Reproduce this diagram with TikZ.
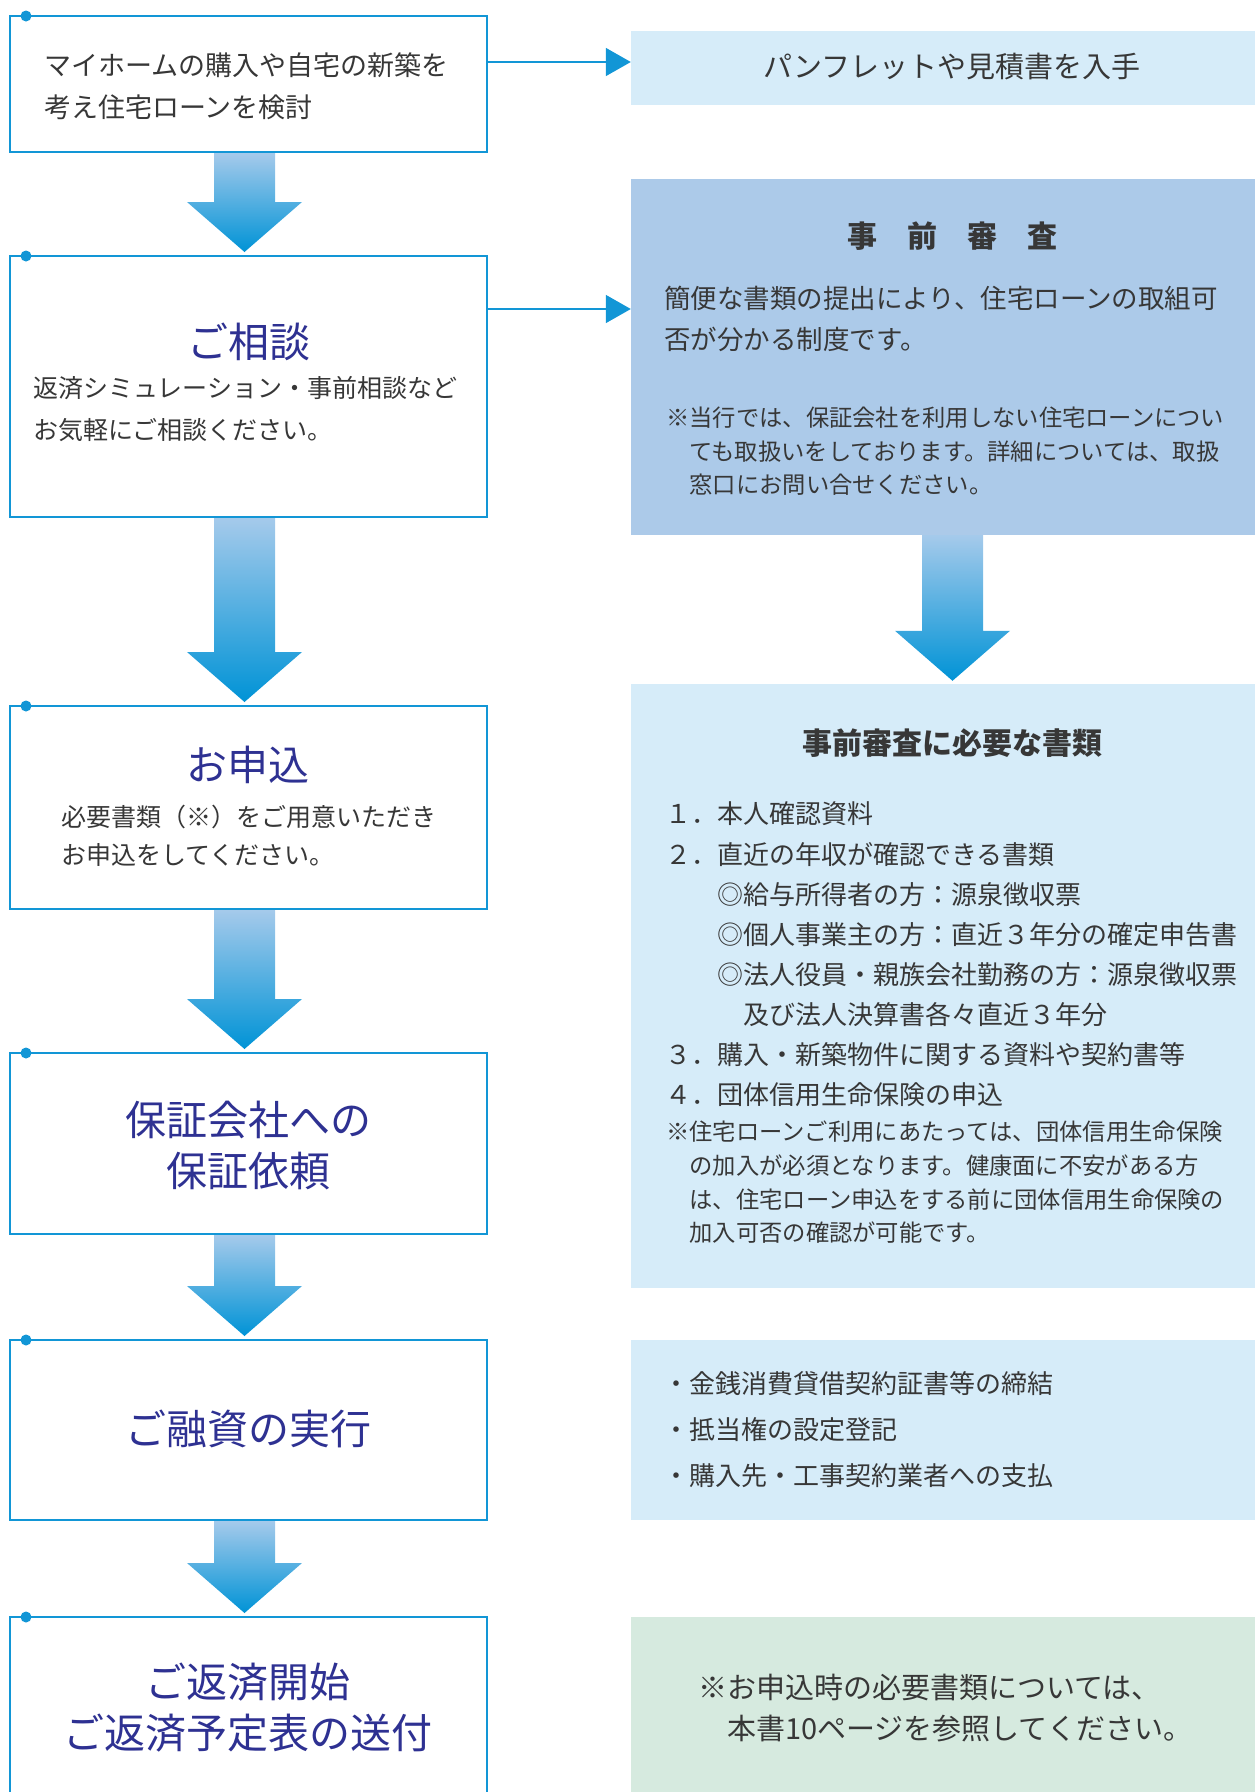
\documentclass[tikz,border=0pt]{standalone}
\usepackage{fontspec}
\setmainfont{Noto Sans CJK JP}
\usepackage{tikz}
\usetikzlibrary{arrows.meta,calc}
\definecolor{lineblue}{RGB}{18,150,214}
\definecolor{arrtop}{RGB}{165,202,235}
\definecolor{arrbot}{RGB}{0,147,214}
\definecolor{paleblue}{RGB}{214,236,249}
\definecolor{midblue}{RGB}{172,202,233}
\definecolor{palegreen}{RGB}{214,234,223}
\definecolor{txtgray}{RGB}{55,55,55}
\definecolor{indigo}{RGB}{46,49,146}
\newcommand\fsz[2]{\fontsize{#1pt}{#2pt}\selectfont}
\newcommand\bigarrow[3]{%
  \shade[top color=arrtop,bottom color=arrbot]
    let \p1=(#2.south), \p2=(#3.north) in
    (#1pt-30.5pt,\y1) -- (#1pt+30.5pt,\y1) -- (#1pt+30.5pt,\y2+53pt)
    -- (#1pt+57.5pt,\y2+53pt) -- (#1pt,\y2+3pt) -- (#1pt-57.5pt,\y2+53pt)
    -- (#1pt-30.5pt,\y2+53pt) -- cycle;}

\begin{document}
\begin{tikzpicture}[x=1pt,y=-1pt,
  lb/.style={rectangle,draw=lineblue,line width=2pt,fill=white,minimum width=477pt,inner sep=0pt},
  rb/.style={rectangle,fill=#1,minimum width=624pt,inner sep=0pt},
  txt/.style={text=txtgray,inner sep=0pt,align=left},
  ttl/.style={text=indigo,inner sep=0pt,align=center,font=\fsz{41}{51}},
  con/.style={draw=lineblue,line width=1.5pt,-{Triangle[length=25pt,width=28pt]}}]
  \useasboundingbox (0,0) rectangle (1255,1792);
  \clip (0,0) rectangle (1255,1792);

  \node[lb,minimum height=136pt] (b1) at (248.5,84) {};
  \node[lb,minimum height=261pt] (b2) at (248.5,386.5) {};
  \node[lb,minimum height=203pt] (b3) at (248.5,807.5) {};
  \node[lb,minimum height=181pt] (b4) at (248.5,1143.5) {};
  \node[lb,minimum height=180pt] (b5) at (248.5,1430) {};
  \node[lb,minimum height=213pt] (b6) at (248.5,1723.5) {};

  \node[rb=paleblue,minimum height=74pt] (r1) at (943,68) {};
  \node[rb=midblue,minimum height=356pt] (r2) at (943,357) {};
  \node[rb=paleblue,minimum height=604pt] (r3) at (943,986) {};
  \node[rb=paleblue,minimum height=180pt] (r4) at (943,1430) {};
  \node[rb=palegreen,minimum height=193pt] (r5) at (943,1713.5) {};

  \foreach \b in {b1,b2,b3,b4,b5,b6}
    \fill[lineblue] ([xshift=17pt,yshift=-1pt]\b.north west) circle[radius=5.5pt];

  \coordinate (c1) at ([yshift=-47pt]b1.north east);
  \coordinate (c2) at ([yshift=-54pt]b2.north east);
  \draw[con] (c1) -- (c1 -| r1.west);
  \draw[con] (c2) -- (c2 -| r2.west);

  \bigarrow{244.5}{b1}{b2}
  \bigarrow{244.5}{b2}{b3}
  \bigarrow{244.5}{b3}{b4}
  \bigarrow{244.5}{b4}{b5}
  \bigarrow{244.5}{b5}{b6}
  \bigarrow{952.5}{r2}{r3}

  \node[txt,anchor=west,font=\fsz{27}{42}] (t1) at (44,86) {マイホームの購入や自宅の新築を\\考え住宅ローンを検討};
  \node[ttl] (h2) at (249,342) {ご相談};
  \node[txt,anchor=west,font=\fsz{25}{42}] (t2) at (33,409) {返済シミュレーション・事前相談など\\お気軽にご相談ください。};
  \node[ttl] (h3) at (248,765) {お申込};
  \node[txt,anchor=west,font=\fsz{25}{38}] (t3) at (61,836) {必要書類（※）をご用意いただき\\お申込をしてください。};
  \node[ttl] (h4) at (248,1145) {保証会社への\\保証依頼};
  \node[ttl] (h5) at (248,1429) {ご融資の実行};
  \node[ttl] (h6) at (248,1707.5) {ご返済開始\\ご返済予定表の送付};

  \node[txt,font=\fsz{29}{40}] (u1) at (952,67) {パンフレットや見積書を入手};
  \node[txt,font=\bfseries\fsz{30}{40}] (g2) at (952,236) {事　前　審　査};
  \node[txt,anchor=west,font=\fsz{26.5}{41}] (u2) at (664,319) {簡便な書類の提出により、住宅ローンの取組可\\否が分かる制度です。};
  \node[txt,anchor=west,font=\fsz{23.3}{33.5}] (n2) at (666,451.5) {※当行では、保証会社を利用しない住宅ローンについ\\　ても取扱いをしております。詳細については、取扱\\　窓口にお問い合せください。};
  \node[txt,font=\bfseries\fsz{30}{40}] (g3) at (952,743) {事前審査に必要な書類};
  \node[txt,anchor=west,font=\fsz{26}{40.1}] (u3) at (665,954.5) {１．本人確認資料\\２．直近の年収が確認できる書類\\　　◎給与所得者の方：源泉徴収票\\　　◎個人事業主の方：直近３年分の確定申告書\\　　◎法人役員・親族会社勤務の方：源泉徴収票\\　　　及び法人決算書各々直近３年分\\３．購入・新築物件に関する資料や契約書等\\４．団体信用生命保険の申込};
  \node[txt,anchor=west,font=\fsz{23.3}{33.7}] (n3) at (666,1182.5) {※住宅ローンご利用にあたっては、団体信用生命保険\\　の加入が必須となります。健康面に不安がある方\\　は、住宅ローン申込をする前に団体信用生命保険の\\　加入可否の確認が可能です。};
  \node[txt,anchor=west,font=\fsz{26}{46}] (u4) at (663,1430) {・金銭消費貸借契約証書等の締結\\・抵当権の設定登記\\・購入先・工事契約業者への支払};
  \node[txt,anchor=west,font=\fsz{29}{41}] (u5) at (698,1708.5) {※お申込時の必要書類については、\\　本書10ページを参照してください。};
\end{tikzpicture}
\end{document}
